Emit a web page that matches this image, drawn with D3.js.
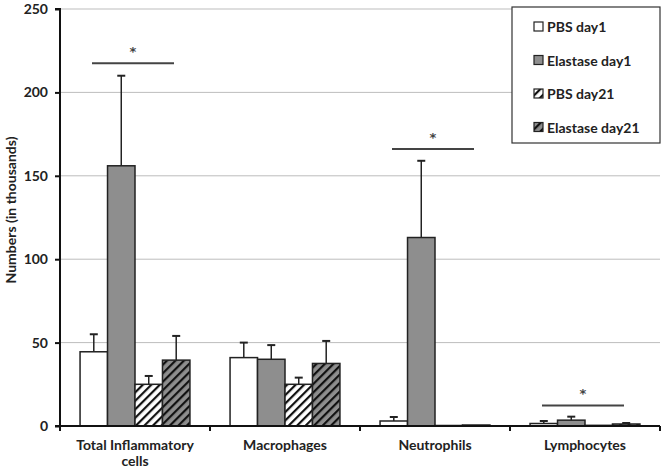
<!DOCTYPE html>
<html><head><meta charset="utf-8">
<script src="https://cdn.jsdelivr.net/npm/d3@7"></script>
<style>body{margin:0;background:#fff;} svg{display:block;font-family:Lato,"Open Sans",sans-serif;}</style>
</head><body><svg id="c" width="666" height="474"></svg>
<script>
const categories = [["Total Inflammatory","cells"],["Macrophages"],["Neutrophils"],["Lymphocytes"]];
const series = ["PBS day1","Elastase day1","PBS day21","Elastase day21"];
const means = [
  [44.5, 156, 25, 39.5],
  [41, 40, 25, 37.5],
  [3, 113, 0.3, 0.6],
  [1.5, 3.5, 0.4, 1.2]
];
const errTops = [
  [55, 210, 30, 54],
  [50, 48.5, 29, 51],
  [5.4, 159, 0.3, 0.6],
  [3, 5.6, 0.4, 1.8]
];
const yTicks = [0, 50, 100, 150, 200, 250];
const sigLevels = [217.5, null, 166, 12.3];

const FS = 14;
const svg = d3.select("#c");
const L = 60, R = 660, T = 9, B = 426;
const x0 = d3.scaleBand().domain(d3.range(categories.length)).range([L, R]).paddingInner(0).paddingOuter(0);
const x1 = d3.scaleBand().domain(d3.range(series.length)).range([0, x0.bandwidth()]).paddingOuter(0.73).paddingInner(0);
const y = d3.scaleLinear().domain([0, 250]).range([B, T]);

const defs = svg.append("defs");
function hatch(id, bg) {
  const p = defs.append("pattern").attr("id", id).attr("patternUnits", "userSpaceOnUse")
    .attr("width", 6).attr("height", 6).attr("patternTransform", "rotate(45)");
  p.append("rect").attr("width", 6).attr("height", 6).attr("fill", bg);
  p.append("rect").attr("x", 0).attr("width", 2.2).attr("height", 6).attr("fill", "#111");
}
hatch("h1", "#fff");
hatch("h2", "#8e8e8e");
const fills = ["#fff", "#8e8e8e", "url(#h1)", "url(#h2)"];

// gridlines
svg.append("g").selectAll("line").data(yTicks.filter(d => d > 0)).join("line")
  .attr("x1", L).attr("x2", R).attr("y1", d => y(d)).attr("y2", d => y(d))
  .attr("stroke", "#bdbdbd").attr("stroke-width", 1);

// bars
const g = svg.append("g");
categories.forEach((c, ci) => {
  series.forEach((s, si) => {
    const bx = x0(ci) + x1(si), bw = x1.bandwidth();
    const cx = bx + bw / 2;
    if (errTops[ci][si] > means[ci][si] + 0.5) {
      g.append("line").attr("x1", cx).attr("x2", cx).attr("y1", y(means[ci][si])).attr("y2", y(errTops[ci][si]))
        .attr("stroke", "#222").attr("stroke-width", 1.5);
      g.append("line").attr("x1", cx - 4).attr("x2", cx + 4).attr("y1", y(errTops[ci][si])).attr("y2", y(errTops[ci][si]))
        .attr("stroke", "#222").attr("stroke-width", 2);
    }
    g.append("rect").attr("x", bx).attr("width", bw)
      .attr("y", y(means[ci][si])).attr("height", y(0) - y(means[ci][si]))
      .attr("fill", fills[si]).attr("stroke", "#222").attr("stroke-width", 1.5);
  });
});

// significance
sigLevels.forEach((v, ci) => {
  if (v == null) return;
  const cx = x0(ci) + x0.bandwidth() / 2 - 2;
  svg.append("line").attr("x1", cx - 41).attr("x2", cx + 41).attr("y1", y(v)).attr("y2", y(v))
    .attr("stroke", "#444").attr("stroke-width", 2);
  svg.append("text").attr("x", cx).attr("y", y(v) - 7).attr("text-anchor", "middle")
    .attr("font-family", "DejaVu Sans, sans-serif")
    .attr("font-size", 13).attr("font-weight", "bold").attr("fill", "#444").text("*");
});

// axes
const yAxis = svg.append("g").attr("transform", `translate(${L},0)`)
  .call(d3.axisLeft(y).tickValues(yTicks).tickSize(5).tickPadding(7));
yAxis.select(".domain").attr("stroke", "#111").attr("stroke-width", 2).attr("d", `M-5,${B}H0V${T}H-5`);
yAxis.selectAll(".tick line").attr("stroke", "#111").attr("stroke-width", 2);
yAxis.selectAll("text").attr("font-size", FS).attr("font-weight", "bold").attr("fill", "#222")
  .attr("font-family", "Lato, Open Sans, sans-serif");

const xTicks = d3.range(categories.length + 1).map(i => i === categories.length ? R : x0(i));
svg.append("line").attr("x1", L).attr("x2", R).attr("y1", B).attr("y2", B).attr("stroke", "#111").attr("stroke-width", 2);
svg.append("g").selectAll("line").data(xTicks).join("line")
  .attr("x1", d => d).attr("x2", d => d).attr("y1", B).attr("y2", B + 5).attr("stroke", "#111").attr("stroke-width", 2);

categories.forEach((c, ci) => {
  const t = svg.append("text").attr("x", x0(ci) + x0.bandwidth() / 2).attr("y", 450)
    .attr("text-anchor", "middle").attr("font-size", FS).attr("font-weight", "bold").attr("fill", "#222");
  c.forEach((line, li) => t.append("tspan").attr("x", x0(ci) + x0.bandwidth() / 2).attr("dy", li ? 16 : 0).text(line));
});

svg.append("text").attr("transform", `translate(16,210) rotate(-90)`)
  .attr("text-anchor", "middle").attr("font-size", FS).attr("font-weight", "bold").attr("fill", "#222")
  .text("Numbers (in thousands)");

// legend
const lg = svg.append("g");
lg.append("rect").attr("x", 512).attr("y", 7).attr("width", 148).attr("height", 136)
  .attr("fill", "#fff").attr("stroke", "#333").attr("stroke-width", 1.2);
series.forEach((s, si) => {
  const yy = 27 + si * 33.5;
  lg.append("rect").attr("x", 534).attr("y", yy - 5).attr("width", 9).attr("height", 9)
    .attr("fill", fills[si]).attr("stroke", "#222").attr("stroke-width", 1.2);
  lg.append("text").attr("x", 547).attr("y", yy + 5).attr("font-size", FS).attr("font-weight", "bold")
    .attr("fill", "#222").text(s);
});
</script></body></html>
